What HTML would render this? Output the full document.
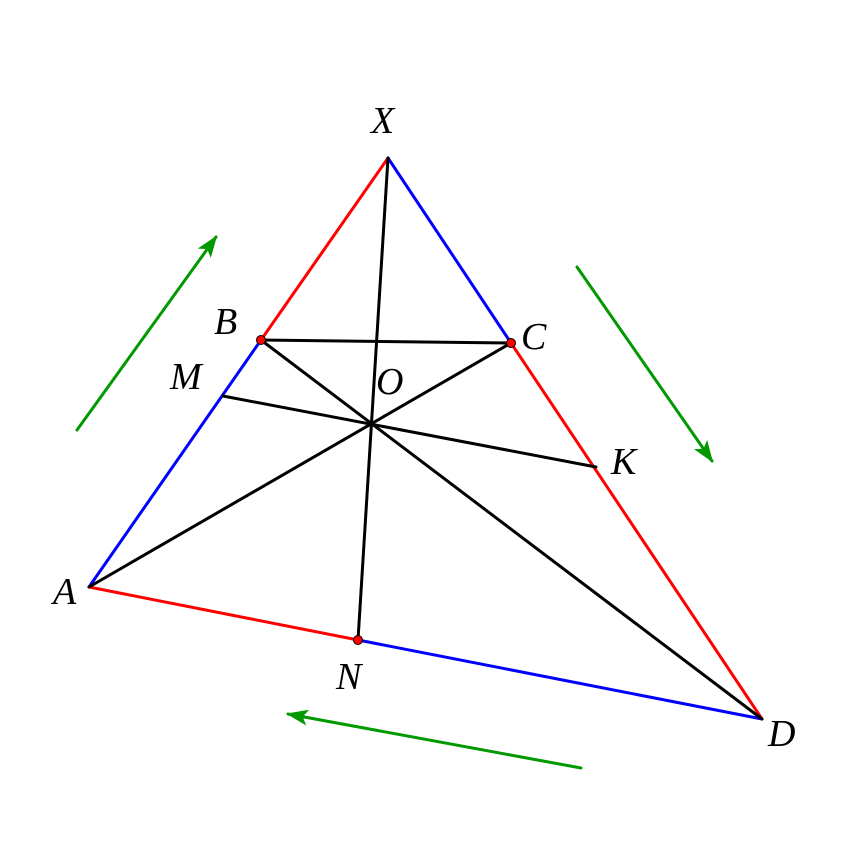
<!DOCTYPE html>
<html><head><meta charset="utf-8"><style>html,body{margin:0;padding:0;background:#fff}svg{display:block}</style></head>
<body>
<svg width="862" height="842" viewBox="0 0 862 842" xmlns="http://www.w3.org/2000/svg">
<defs>
<marker id="ar" markerWidth="22" markerHeight="16" refX="20" refY="8" orient="auto" markerUnits="userSpaceOnUse">
<path d="M0,0 L22,8 L0,16 L5,8 Z" fill="#009900"/>
</marker>
</defs>
<g stroke-width="3" fill="none" stroke-linecap="round">
<line x1="388" y1="158" x2="261" y2="340" stroke="#ff0000"/>
<line x1="261" y1="340" x2="89" y2="587" stroke="#0000ff"/>
<line x1="388" y1="158" x2="511" y2="343" stroke="#0000ff"/>
<line x1="511" y1="343" x2="762" y2="719" stroke="#ff0000"/>
<line x1="89" y1="587" x2="358" y2="640" stroke="#ff0000"/>
<line x1="358" y1="640" x2="762" y2="719" stroke="#0000ff"/>
<g stroke="#000">
<line x1="388" y1="158" x2="358" y2="640"/>
<line x1="261" y1="340" x2="511" y2="343"/>
<line x1="261" y1="340" x2="762" y2="719"/>
<line x1="89" y1="587" x2="511" y2="343"/>
<line x1="223" y1="396" x2="596" y2="467"/>
</g>
<g stroke="#009900">
<line x1="77" y1="430" x2="216" y2="237" marker-end="url(#ar)"/>
<line x1="577" y1="267" x2="712" y2="461" marker-end="url(#ar)"/>
<line x1="581" y1="768" x2="288" y2="714" marker-end="url(#ar)"/>
</g>
</g>
<g fill="#ff0000" stroke="#000" stroke-width="1">
<circle cx="261" cy="340" r="4.5"/>
<circle cx="511" cy="343" r="4.5"/>
<circle cx="358" cy="640" r="4.5"/>
</g>
<g font-family="Liberation Serif, serif" font-style="italic" font-size="38" fill="#000">
<text x="371" y="133">X</text>
<text x="214" y="334">B</text>
<text x="521" y="349">C</text>
<text x="170" y="389">M</text>
<text x="376" y="394">O</text>
<text x="611" y="474">K</text>
<text x="53" y="604">A</text>
<text x="336" y="689">N</text>
<text x="768" y="746">D</text>
</g>
</svg>
</body></html>
